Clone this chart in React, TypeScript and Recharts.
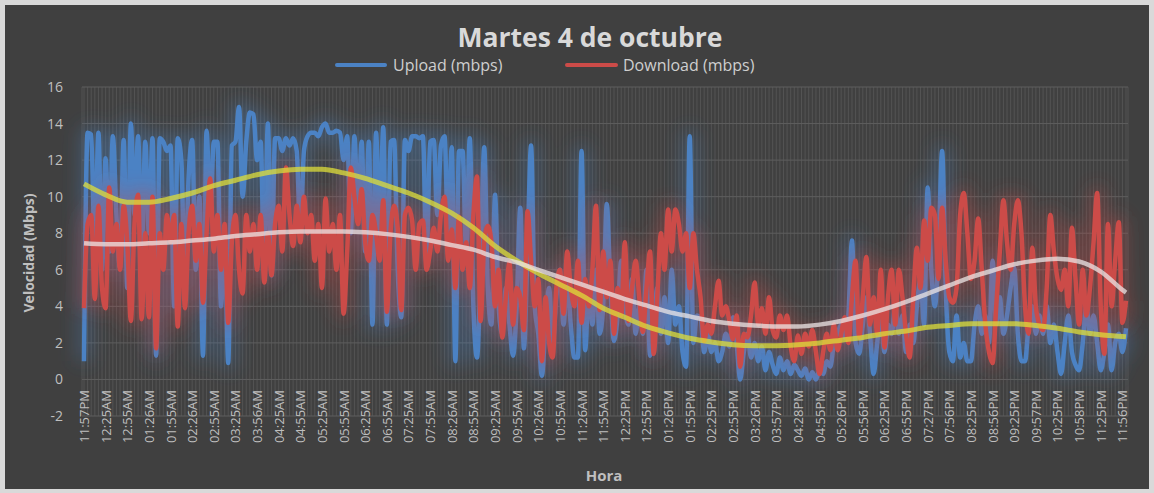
import { CartesianGrid, Line, LineChart, XAxis, YAxis } from "recharts";

const tickLabels = [
  "11:57PM", "12:25AM", "12:55AM", "01:26AM", "01:55AM", "02:26AM", "02:55AM", "03:25AM", "03:56AM",
  "04:25AM", "04:55AM", "05:25AM", "05:55AM", "06:25AM", "06:55AM", "07:25AM", "07:55AM", "08:26AM",
  "08:55AM", "09:25AM", "09:55AM", "10:26AM", "10:55AM", "11:26AM", "11:55AM", "12:25PM", "12:55PM",
  "01:26PM", "01:55PM", "02:25PM", "02:55PM", "03:26PM", "03:57PM", "04:28PM", "04:55PM", "05:26PM",
  "05:56PM", "06:25PM", "06:55PM", "07:27PM", "07:56PM", "08:25PM", "08:56PM", "09:25PM", "09:57PM",
  "10:25PM", "10:58PM", "11:25PM", "11:56PM",
];

const yTicks = [-2, 0, 2, 4, 6, 8, 10, 12, 14, 16];

// one reading about every 5 minutes, a label every 6th reading
const upload = [
  1.0, 13.5, 13.4, 7, 13.5, 6,
  12.1, 7, 13.3, 9, 6.1, 13.1,
  5, 14.0, 9, 13.3, 7, 13.0,
  8, 13.2, 1.3, 13.2, 13.0, 12.5,
  12.8, 4, 13.2, 12, 5, 11,
  13.1, 6, 10, 1.3, 13.6, 9,
  13.0, 13.0, 4, 8, 0.9, 12.8,
  13.0, 14.9, 10, 13, 14.6, 14.5,
  12, 13, 6, 14.0, 5.7, 13.2,
  13.2, 12.5, 13.2, 12.8, 13.2, 12.5,
  8, 12.5, 13.3, 13.5, 13.5, 13.3,
  13.8, 14.0, 13.5, 13.5, 13.6, 13.5,
  12, 13.3, 8, 13.3, 9, 13.0,
  7, 13.0, 3, 13.5, 8, 13.8,
  3, 13, 13.1, 6, 3.4, 13.1,
  12.5, 13.3, 13.3, 13.2, 13.3, 6.6,
  13, 13.1, 9, 12.8, 13.3, 8,
  12.7, 1, 12.5, 12.5, 7, 13.2,
  4, 1.2, 6, 12.7, 5, 3,
  10.1, 4, 2.5, 5, 3, 1.3,
  4, 9.4, 1.7, 7, 12.8, 4,
  2.5, 0.2, 3, 5, 2, 4.5,
  6, 3, 5.5, 3, 1.2, 1.2,
  12.5, 1.6, 5, 3, 6, 2.5,
  4, 9.6, 5, 2.1, 3.5, 6.5,
  4, 3, 5.5, 2.5, 4, 2.5,
  6, 1.3, 3, 5, 2.5, 4.5,
  2, 6, 3, 4, 1.5, 0.7,
  13.3, 2, 3.5, 3.4, 1.5, 2.5,
  1.5, 2, 1, 1.5, 2.5, 1.8,
  3.4, 2, 0, 1.5, 2.5, 1.2,
  2, 1, 1.8, 0.5, 1.5, 0.8,
  0.3, 1.2, 0.5, 1, 0.3, 0.8,
  0.5, 0.2, 0.6, 0, 0.4, 0,
  0.5, 0.3, 1, 0.7, 2, 2.5,
  3, 2.3, 3.5, 7.6, 2, 1.4,
  3, 4.5, 2.5, 0.3, 2, 3.5,
  1.5, 3, 2.5, 4, 2.5, 3.5,
  1.5, 3, 2, 4, 5.5, 3,
  10.5, 6, 4, 7, 12.5, 5,
  1.5, 1, 3.5, 1.2, 2, 1,
  1, 3, 4, 2.5, 3.5, 2,
  6.5, 3, 4.5, 2.5, 3.5, 5,
  6.1, 2.5, 1, 1, 3, 4,
  2.5, 3.5, 2.5, 4, 2, 3,
  1.5, 0.3, 2, 3.5, 1.5, 0.8,
  0.5, 2, 4, 2.5, 3.5, 2,
  0.5, 1.5, 3, 0.5, 2, 2.5,
  1.5, 2.8,
];

const download = [
  3.9, 8.5, 9.0, 4.4, 9.5, 5,
  3.9, 10.5, 7, 8.5, 6, 9.5,
  7.5, 3.2, 8.5, 10.1, 3.3, 8,
  3.4, 10.0, 1.7, 8, 6, 9,
  7.5, 9, 2.9, 8.5, 3.9, 8,
  9.5, 6.5, 8.5, 4.2, 8, 11.0,
  7, 9, 6, 8.5, 3.1, 7.5,
  9, 6, 4.7, 9, 7, 8.5,
  6, 9, 5.3, 8, 5.7, 8.5,
  9.5, 7, 11.6, 9, 7.3, 9.5,
  7.5, 10, 8, 9, 6.5, 8.5,
  5.0, 9.9, 7, 8.5, 6, 9,
  3.6, 7, 11.6, 10, 8.5, 10.4,
  7.5, 6.5, 9, 8, 6.5, 9.8,
  3.7, 8, 9.5, 8.3, 3.8, 9,
  9.4, 8.7, 6, 8.5, 8.7, 6,
  7, 8.3, 7, 9, 10, 6.5,
  8.2, 5, 8.9, 6, 7.5, 5,
  9, 11.1, 3.2, 7.5, 8.4, 7.5,
  4, 6, 2.3, 4.5, 6.4, 3,
  5, 4.5, 2.7, 9.2, 6.5, 4,
  5.5, 1.0, 4.5, 2, 1.2, 5,
  6.0, 3.6, 7, 5, 4, 6.5,
  3.1, 5.5, 4, 6, 9.5, 3.8,
  7, 4.5, 6.5, 2.5, 5, 3.5,
  7.5, 3.2, 5, 6.5, 4.5, 2.6,
  5, 7, 1.4, 4.5, 8, 6,
  9.3, 7, 9.3, 8.5, 7, 8,
  5, 8, 6, 4.5, 2.1, 3,
  2.5, 4, 5.4, 3.5, 4, 3.2,
  2.2, 3.5, 0.7, 2.5, 2.3, 3.5,
  5.3, 3, 3.9, 2.5, 4.5, 2.7,
  2.3, 3.5, 2.7, 3.5, 1.8, 1.0,
  2.4, 1.4, 2.5, 1.8, 2.7, 1.5,
  0.3, 1.5, 2.5, 1.6, 3, 1.6,
  2.5, 3.4, 2, 4.5, 6.5, 2.3,
  4.5, 6.7, 3, 4.5, 2.5, 6,
  1.75, 4.5, 6, 3, 6, 4.5,
  2.5, 1.2, 4.5, 7.2, 5, 8.7,
  6.5, 9.4, 9, 5.5, 9.4, 6.5,
  4.5, 4.2, 5, 9, 10.2, 8,
  5.5, 6.5, 8.8, 6, 3, 1.5,
  0.9, 4, 7, 9.8, 7.5, 6,
  8.5, 9.8, 8, 4, 2.5, 7.2,
  4, 3, 2.7, 5, 9, 7,
  5.5, 4.9, 6, 4, 8.3, 5.5,
  3, 6, 3.5, 5, 7.5, 10.2,
  4, 1.4, 8.5, 4, 6.5, 8.6,
  3.1, 4.3,
];

// polynomial trend lines, read at each labelled reading (+ the last one)
const uploadTrend = [
  10.7, 10.1, 9.7, 9.7, 9.9, 10.2, 10.6, 10.9, 11.2, 11.4, 11.5, 11.5, 11.3, 11.0, 10.6, 10.2, 9.7,
  9.1, 8.3, 7.3, 6.5, 5.8, 5.2, 4.6, 3.9, 3.4, 2.9, 2.55, 2.25, 2.05, 1.9, 1.85, 1.85, 1.9, 2.0,
  2.15, 2.3, 2.5, 2.65, 2.85, 2.95, 3.05, 3.05, 3.05, 2.95, 2.8, 2.6, 2.45, 2.35, 2.33,
];
const downloadTrend = [
  7.45, 7.4, 7.4, 7.45, 7.5, 7.6, 7.7, 7.85, 7.95, 8.05, 8.1, 8.1, 8.1, 8.05, 7.95, 7.8, 7.6,
  7.35, 7.1, 6.7, 6.4, 6.0, 5.6, 5.2, 4.8, 4.4, 4.05, 3.7, 3.45, 3.2, 3.05, 2.95, 2.9, 2.9, 3.0,
  3.2, 3.5, 3.85, 4.25, 4.7, 5.15, 5.6, 5.95, 6.3, 6.5, 6.6, 6.45, 5.9, 4.9, 4.75,
];

const last = upload.length - 1;
const data = upload.map((u, i) => {
  const t = i % 6 === 0 ? i / 6 : i === last ? uploadTrend.length - 1 : -1;
  return {
    idx: i,
    upload: u,
    download: download[i],
    uTrend: t >= 0 ? uploadTrend[t] : null,
    dTrend: t >= 0 ? downloadTrend[t] : null,
  };
});

const FONT = "'Open Sans', sans-serif";
const TEXT = "#bfbfbf";

function HourTick(props: any) {
  const { x, y, payload } = props;
  const i = payload.value as number;
  if (i % 6 !== 0) return <g />;
  const ty = y - 26;
  return (
    <text
      x={x}
      y={ty}
      transform={`rotate(-90 ${x} ${ty})`}
      textAnchor="end"
      dominantBaseline="central"
      fill={TEXT}
      fontSize={13}
      fontFamily={FONT}
    >
      {tickLabels[i / 6]}
    </text>
  );
}

export default function App() {
  return (
    <div style={{ width: 1154, height: 493, background: "#d9d9d9", position: "relative", fontFamily: FONT }}>
      <style>{`body{margin:0} .glow{filter:url(#soft)}`}</style>
      <svg width={0} height={0} style={{ position: "absolute" }}>
        <defs>
          <filter id="soft" x="-5%" y="-20%" width="110%" height="140%">
            <feGaussianBlur stdDeviation="9" />
          </filter>
        </defs>
      </svg>
      <div style={{ position: "absolute", left: 5, top: 5, width: 1144, height: 484, background: "#404040" }}>
        <div
          style={{
            position: "absolute", left: 0, width: 1144, top: 15, textAlign: "center",
            fontSize: 26.5, fontWeight: 700, color: "#d9d9d9", paddingLeft: 26, boxSizing: "border-box",
            lineHeight: "34px",
          }}
        >
          Martes 4 de octubre
        </div>
        <div style={{ position: "absolute", top: 50, left: 330, display: "flex", alignItems: "center", fontSize: 16, color: "#cfcfcf", lineHeight: "20px" }}>
          <span style={{ width: 52, height: 4, background: "#4b82c4", borderRadius: 2, marginRight: 6 }} />
          <span style={{ width: 172 }}>Upload (mbps)</span>
          <span style={{ width: 53, height: 4, background: "#cc4b48", borderRadius: 2, marginRight: 5 }} />
          <span>Download (mbps)</span>
        </div>
        <div
          style={{
            position: "absolute", left: 23, top: 248, transform: "translate(-50%, -50%) rotate(-90deg)",
            fontSize: 14, fontWeight: 700, color: TEXT, whiteSpace: "nowrap",
          }}
        >
          Velocidad (Mbps)
        </div>
        <div style={{ position: "absolute", left: 599, top: 470, transform: "translate(-50%, -50%)", fontSize: 15, fontWeight: 700, color: TEXT }}>
          Hora
        </div>
        <LineChart width={1144} height={484} data={data} margin={{ top: 82, right: 21, bottom: 0, left: 17 }}>
          <CartesianGrid horizontal={false} stroke="#535353" strokeWidth={1} />
          <CartesianGrid vertical={false} stroke="#5e5e5e" strokeWidth={1} />
          <XAxis
            dataKey="idx"
            type="category"
            interval={0}
            tick={<HourTick />}
            tickSize={0}
            tickMargin={0}
            axisLine={false}
            tickLine={false}
            height={73}
            padding={{ left: 2, right: 2 }}
          />
          <YAxis
            domain={[-2, 16]}
            ticks={yTicks}
            width={60}
            tickSize={0}
            tickMargin={19}
            axisLine={false}
            tickLine={false}
            tick={{ fill: TEXT, fontSize: 14, fontFamily: FONT }}
          />
          <Line className="glow" dataKey="upload" type="monotone" stroke="#4b82c4" strokeWidth={14} strokeOpacity={0.35} dot={false} activeDot={false} isAnimationActive={false} />
          <Line dataKey="upload" type="monotone" stroke="#4b82c4" strokeWidth={4.5} dot={false} activeDot={false} isAnimationActive={false} />
          <Line className="glow" dataKey="download" type="monotone" stroke="#cc4b48" strokeWidth={14} strokeOpacity={0.35} dot={false} activeDot={false} isAnimationActive={false} />
          <Line dataKey="download" type="monotone" stroke="#cc4b48" strokeWidth={4.5} dot={false} activeDot={false} isAnimationActive={false} />
          <Line dataKey="uTrend" type="monotone" connectNulls stroke="#dede3a" strokeOpacity={0.75} strokeWidth={5} dot={false} activeDot={false} isAnimationActive={false} />
          <Line dataKey="dTrend" type="monotone" connectNulls stroke="#ece6e6" strokeOpacity={0.75} strokeWidth={4.5} dot={false} activeDot={false} isAnimationActive={false} />
        </LineChart>
      </div>
    </div>
  );
}
